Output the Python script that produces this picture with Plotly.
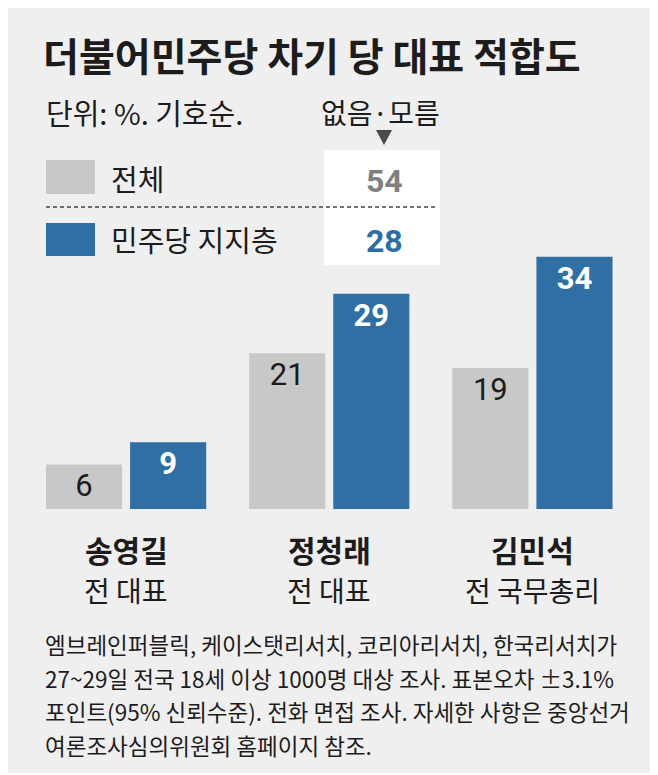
import plotly.graph_objects as go

# data
candidates = ["송영길", "정청래", "김민석"]
roles = ["전 대표", "전 대표", "전 국무총리"]
series_names = ["전체", "민주당 지지층"]
total = [6, 21, 19]
supporters = [9, 29, 34]
none_unknown = [54, 28]

# the page body adds an 8px margin, so the figure is drawn 8px smaller
OFF = 8
W, H = 658 - OFF, 775 - OFF
KR = "Noto Sans CJK KR"
NUM = "Liberation Sans Narrow, Roboto, sans-serif"
GRAY = "#c8c8c9"
BLUE = "#2f6fa4"
INK = "#1c1c1c"


def px(x):
    return (x - OFF) / W


def py(y):
    return 1 - (y - OFF) / H


fig = go.Figure()

fig.add_trace(go.Bar(
    x=candidates, y=total, name=series_names[0],
    marker=dict(color=GRAY, line_width=0),
    text=total, textposition="inside", insidetextanchor="end",
    textfont=dict(family=NUM, size=31, color=INK),
    hoverinfo="skip",
))
fig.add_trace(go.Bar(
    x=candidates, y=supporters, name=series_names[1],
    marker=dict(color=BLUE, line_width=0),
    text=["<b>%d</b>" % v for v in supporters], textposition="inside",
    insidetextanchor="end",
    textfont=dict(family=NUM, size=31, color="white"),
    hoverinfo="skip",
))

shapes = [
    # background panel
    dict(type="rect", xref="paper", yref="paper", x0=px(2), x1=px(655),
         y0=py(773), y1=py(2), fillcolor="#f0efef", line_width=0, layer="below"),
    # white box for 없음·모름
    dict(type="rect", xref="paper", yref="paper", x0=px(324), x1=px(440),
         y0=py(265), y1=py(150), fillcolor="white", line_width=0, layer="below"),
    # legend swatches
    dict(type="rect", xref="paper", yref="paper", x0=px(46), x1=px(95),
         y0=py(194), y1=py(160), fillcolor=GRAY, line_width=0),
    dict(type="rect", xref="paper", yref="paper", x0=px(46), x1=px(95),
         y0=py(256), y1=py(223), fillcolor=BLUE, line_width=0),
    # dashed divider
    dict(type="line", xref="paper", yref="paper", x0=px(46), x1=px(438),
         y0=py(207), y1=py(207), line=dict(color="#444", width=1.3, dash="4px,3px")),
    # arrow
    dict(type="path", xref="paper", yref="paper",
         path="M %f %f L %f %f L %f %f Z" % (px(376), py(130), px(392), py(130), px(384), py(145)),
         fillcolor="#4a4a4a", line_width=0),
]

ann = []


def label(text, x, y, size, color=INK, family=KR, xanchor="left"):
    ann.append(dict(text=text, x=px(x), y=py(y), xref="paper", yref="paper",
                    xanchor=xanchor, yanchor="middle", showarrow=False,
                    font=dict(family=family, size=size, color=color)))


label("<b>더불어민주당 차기 당 대표 적합도</b>", 41, 54, 39)
label("단위: %. 기호순.", 44, 112, 29)
label("없음·모름", 380, 112, 28, xanchor="center")
label(series_names[0], 109, 178, 29)
label(series_names[1], 109, 239, 29)
label("<b>%d</b>" % none_unknown[0], 384, 181, 32, color="#7f7f7f", family=NUM, xanchor="center")
label("<b>%d</b>" % none_unknown[1], 384, 241, 32, color="#2b6ea6", family=NUM, xanchor="center")

# candidate name and role under each group
for c, r in zip(candidates, roles):
    ann.append(dict(text="<b>%s</b>" % c, x=c, y=py(549), xref="x", yref="paper",
                    xanchor="center", yanchor="middle", showarrow=False,
                    font=dict(family=KR, size=30, color=INK)))
    ann.append(dict(text=r, x=c, y=py(590), xref="x", yref="paper",
                    xanchor="center", yanchor="middle", showarrow=False,
                    font=dict(family=KR, size=28, color=INK)))

notes = [
    "엠브레인퍼블릭, 케이스탯리서치, 코리아리서치, 한국리서치가",
    "27~29일 전국 18세 이상 1000명 대상 조사. 표본오차 ±3.1%",
    "포인트(95% 신뢰수준). 전화 면접 조사. 자세한 사항은 중앙선거",
    "여론조사심의위원회 홈페이지 참조.",
]
for i, line in enumerate(notes):
    label(line, 43, 644 + i * 33.5, 22.5)

fig.update_layout(
    width=W, height=H,
    margin=dict(l=0, r=0, t=0, b=0),
    paper_bgcolor="white", plot_bgcolor="rgba(0,0,0,0)",
    barmode="group", bargap=0.172, bargroupgap=0.095,
    showlegend=False,
    shapes=shapes, annotations=ann,
    xaxis=dict(domain=[px(24.5), px(634)], range=[-0.5, 2.5], visible=False,
               fixedrange=True),
    yaxis=dict(domain=[py(509), py(212.2)], range=[0, 40], visible=False,
               fixedrange=True),
)

fig.write_html("out.html", config=dict(displayModeBar=False))
